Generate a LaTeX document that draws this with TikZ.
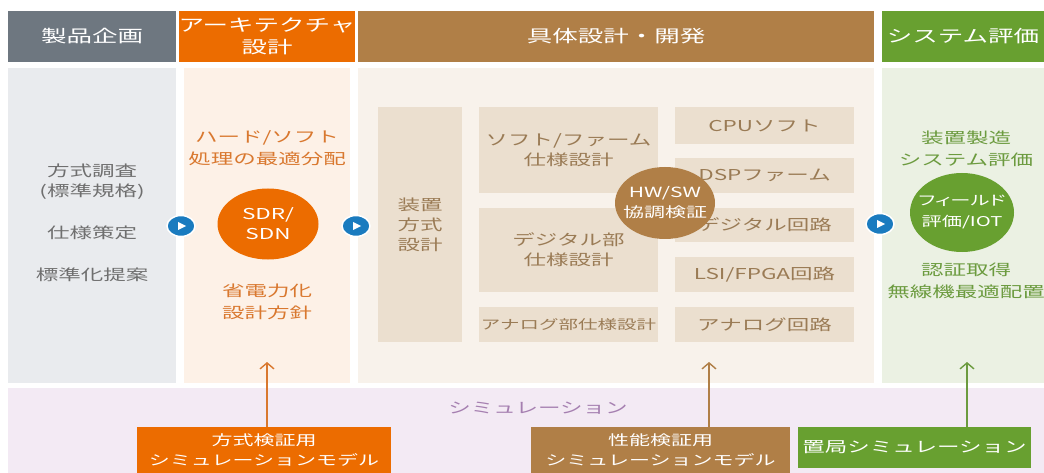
\documentclass[tikz,border=0pt]{standalone}
\usepackage{fontspec}
\setmainfont{Noto Sans CJK JP}[FakeStretch=1.5]
\newfontfamily\jpprop{Noto Sans CJK JP}[FakeStretch=1.5, RawFeature=+palt]
\usetikzlibrary{arrows.meta,shapes.geometric}
\definecolor{cgray}{HTML}{6E7780}
\definecolor{corange}{HTML}{EC6C00}
\definecolor{cbrown}{HTML}{B07F47}
\definecolor{cgreen}{HTML}{68A030}
\definecolor{pgray}{HTML}{E9EBEE}
\definecolor{porange}{HTML}{FDF1E7}
\definecolor{pbrown}{HTML}{F8F2EB}
\definecolor{pgreen}{HTML}{EBF1E3}
\definecolor{pband}{HTML}{F3EAF4}
\definecolor{cbox}{HTML}{EBDFCF}
\definecolor{tbox}{HTML}{9A7B55}
\definecolor{tgray}{HTML}{6F6F6F}
\definecolor{torange}{HTML}{D9782F}
\definecolor{tgreen}{HTML}{6C9B3F}
\definecolor{tpurple}{HTML}{A57FB0}
\definecolor{cblue}{HTML}{1A7BBF}
\tikzset{
  hdr/.style={rectangle, inner sep=0pt, text=white, align=center, font=\fontsize{17}{22}\selectfont},
  panel/.style={rectangle, inner sep=0pt},
  ptext/.style={align=center, inner sep=0pt, font=\fontsize{15}{22}\selectfont},
  ibox/.style={rectangle, inner sep=0pt, fill=cbox, text=tbox, align=center, font=\fontsize{15}{20}\selectfont},
  oval/.style={ellipse, inner sep=0pt},
  ovaltext/.style={text=white, align=center, inner sep=0pt, font=\fontsize{15}{20}\selectfont},
  bbox/.style={rectangle, inner sep=0pt, text=white, align=center, font=\fontsize{14}{20}\selectfont},
  nextmark/.style={ellipse, draw=white, line width=1.5pt, fill=cblue, minimum width=28pt, minimum height=21pt, inner sep=0pt},
  uparrow/.style={line width=1.6pt, -{Straight Barb[length=6pt,width=14pt,line width=1.4pt]}},
}
\begin{document}
\begin{tikzpicture}[x=1pt,y=-1pt]
\useasboundingbox (0,0) rectangle (1044,473);
\fill[white] (0,0) rectangle (1044,473);
% headers
\node[hdr, fill=cgray, minimum width=168pt, minimum height=51pt] (h1) at (92,36.5) {製品企画};
\node[hdr, fill=corange, minimum width=166pt, minimum height=51pt] (h2) at (267,36.5) {アーキテクチャ\\設計};
\node[hdr, fill=cbrown, minimum width=516pt, minimum height=51pt] (h3) at (616,36.5) {具体設計・開発};
\node[hdr, fill=cgreen, minimum width=162pt, minimum height=51pt] (h4) at (963,36.5) {システム評価};
% panels
\node[panel, fill=pgray, minimum width=168pt, minimum height=315pt] (p1) at (92,225.5) {};
\node[panel, fill=porange, minimum width=166pt, minimum height=315pt] (p2) at (267,225.5) {};
\node[panel, fill=pbrown, minimum width=516pt, minimum height=315pt] (p3) at (616,225.5) {};
\node[panel, fill=pgreen, minimum width=162pt, minimum height=315pt] (p4) at (963,225.5) {};
% bottom band
\node[panel, fill=pband, minimum width=1036pt, minimum height=85pt] (band) at (526,430.5) {};
\node[ptext, text=tpurple] (simlabel) at (538,408) {シミュレーション};
% panel 1 text
\node[ptext, text=tgray, font=\fontsize{15}{20}\selectfont] (t1a) at (92,182) {方式調査\\(標準規格)};
\node[ptext, text=tgray] (t1b) at (92,233) {仕様策定};
\node[ptext, text=tgray] (t1c) at (92,275) {標準化提案};
% panel 2
\node[ptext, text=torange] (t2a) at (267,148) {ハード/ソフト\\処理の最適分配};
\node[oval, fill=corange, minimum width=101pt, minimum height=71pt,
  label={[ovaltext]center:SDR/\\SDN}] (sdr) at (268,224) {};
\node[ptext, text=torange] (t2b) at (267,302) {省電力化\\設計方針};
% panel 3 boxes
\node[ibox, minimum width=84pt, minimum height=235pt] (sochi) at (420,224.5) {装置\\方式\\設計};
\node[ibox, minimum width=179pt, minimum height=86pt] (softspec) at (568.5,150) {ソフト/ファーム\\仕様設計};
\node[ibox, minimum width=179pt, minimum height=84pt] (digispec) at (568.5,250) {デジタル部\\仕様設計};
\node[ibox, minimum width=179pt, minimum height=35pt, font=\fontsize{13}{18}\selectfont] (anaspec) at (568.5,324.5) {アナログ部仕様設計};
\node[ibox, minimum width=179pt, minimum height=37pt] (cpu) at (764.5,125.5) {CPUソフト};
\node[ibox, minimum width=179pt, minimum height=35pt] (dsp) at (764.5,175.5) {DSPファーム};
\node[ibox, minimum width=179pt, minimum height=34pt] (digikairo) at (764.5,225) {デジタル回路};
\node[ibox, minimum width=179pt, minimum height=35pt] (lsi) at (764.5,274.5) {LSI/FPGA回路};
\node[ibox, minimum width=179pt, minimum height=35pt] (anakairo) at (764.5,324.5) {アナログ回路};
\node[oval, fill=cbrown, minimum width=100pt, minimum height=72pt,
  label={[ovaltext, font=\fontsize{14}{20}\selectfont]center:HW/SW\\協調検証}] (hwsw) at (665,203) {};
% panel 4
\node[ptext, text=tgreen] (t4a) at (966,149) {装置製造\\システム評価};
\node[oval, fill=cgreen, minimum width=104pt, minimum height=79pt,
  label={[ovaltext, font=\jpprop\fontsize{13.5}{21}\selectfont]center:フィールド\\評価/IOT}] (field) at (962,212.5) {};
\node[ptext, text=tgreen] (t4b) at (966,281) {認証取得\\無線機最適配置};
% flow marks
\node[nextmark] (m1) at (181,226) {};
\node[nextmark] (m2) at (356,226) {};
\node[nextmark] (m3) at (880,224) {};
\foreach \m in {m1,m2,m3}
  \fill[white] ([xshift=-3pt,yshift=4pt]\m.center) -- ([xshift=5pt]\m.center) -- ([xshift=-3pt,yshift=-4pt]\m.center) -- cycle;
% bottom boxes
\node[bbox, fill=corange, minimum width=254pt, minimum height=46pt] (b1) at (264,450) {方式検証用\\シミュレーションモデル};
\node[bbox, fill=cbrown, minimum width=259pt, minimum height=46pt] (b2) at (660.5,450) {性能検証用\\シミュレーションモデル};
\node[bbox, fill=cgreen, minimum width=233pt, minimum height=41pt, font=\fontsize{15}{20}\selectfont] (b3) at (914.5,447.5) {置局シミュレーション};
\coordinate (a1) at (267,362);
\coordinate (a2) at (709,362);
\coordinate (a3) at (967,362);
\draw[uparrow, draw=torange] (b1.north -| a1) -- (a1);
\draw[uparrow, draw=cbrown] (b2.north -| a2) -- (a2);
\draw[uparrow, draw=tgreen] (b3.north -| a3) -- (a3);
\end{tikzpicture}
\end{document}
